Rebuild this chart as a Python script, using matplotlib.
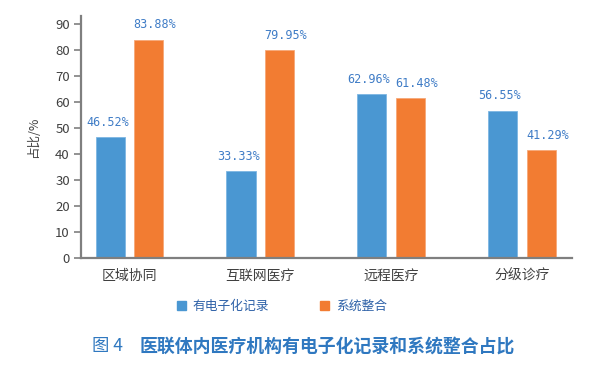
import numpy as np
import matplotlib
matplotlib.use("Agg")
import matplotlib.pyplot as plt
from matplotlib.patches import Patch

plt.rcParams['font.family'] = ['Noto Sans CJK SC', 'DejaVu Sans']

# 数据
categories = ['区域协同', '互联网医疗', '远程医疗', '分级诊疗']
series_names = ['有电子化记录', '系统整合']
electronic = [46.52, 33.33, 62.96, 56.55]
integration = [83.88, 79.95, 61.48, 41.29]
yticks = [0, 10, 20, 30, 40, 50, 60, 70, 80, 90]

blue = '#4a97d2'
orange = '#f27c32'
label_color = '#3f7cc6'
axis_color = '#7f7f7f'
text_color = '#404040'

fig = plt.figure(figsize=(6.13, 3.69), dpi=100)
ax = fig.add_axes([0.132, 0.301, 0.801, 0.656])

x = np.arange(len(categories))
w = 0.222
off = 0.147
b1 = ax.bar(x - off, electronic, w, color=blue, edgecolor='#7db6e3', linewidth=0.6)
b2 = ax.bar(x + off, integration, w, color=orange, edgecolor='#f6a878', linewidth=0.6)

# 数值标签（蓝色略偏左，橙色略偏右）
for bars, vals, dx in ((b1, electronic, -2), (b2, integration, 4.5)):
    for r, v in zip(bars, vals):
        ax.annotate(f'{v:.2f}%', (r.get_x() + r.get_width() / 2, v),
                    xytext=(dx, 6), textcoords='offset points',
                    ha='center', va='bottom', fontsize=8.5, color=label_color,
                    family='DejaVu Sans Mono')

ax.set_xlim(-0.371, 3.383)
ax.set_ylim(0, 93)
ax.set_yticks(yticks)
ax.set_xticks(x)
ax.set_xticklabels(categories)
ax.tick_params(axis='x', length=0, pad=8, labelsize=10, labelcolor=text_color)
ax.tick_params(axis='y', length=5, width=1.2, color=axis_color, labelsize=9.5,
               labelcolor=text_color, pad=3)
for s in ('top', 'right'):
    ax.spines[s].set_visible(False)
for s in ('left', 'bottom'):
    ax.spines[s].set_color(axis_color)
    ax.spines[s].set_linewidth(1.6)
ax.set_ylabel('占比/%', fontsize=9, color=text_color, labelpad=11)

handles = [Patch(color=blue), Patch(color=orange)]
fig.legend(handles, series_names, loc='center', bbox_to_anchor=(0.46, 0.17),
           ncol=2, frameon=False, handlelength=0.65, handleheight=0.65,
           columnspacing=4.0, handletextpad=0.55,
           prop={'size': 9.2}, labelcolor='#2f62a8')

fig.text(0.15, 0.062, '图 4', fontsize=12.5, color='#2f78c0', ha='left', va='center')
fig.text(0.228, 0.062, '医联体内医疗机构有电子化记录和系统整合占比', fontsize=12.9,
         fontweight='bold', color='#2f78c0', ha='left', va='center')

fig.savefig('out.png', dpi=100)
